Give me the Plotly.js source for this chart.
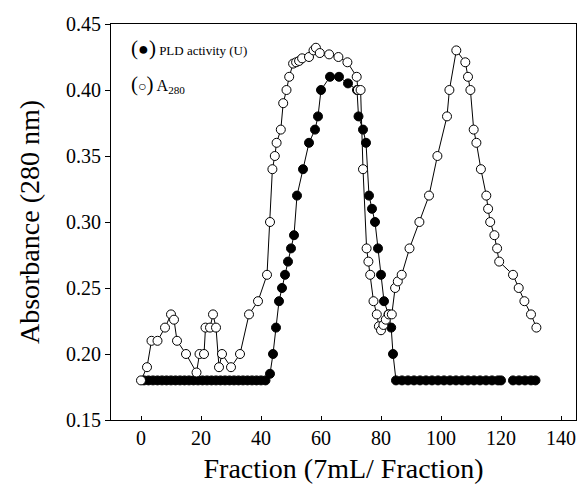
<!DOCTYPE html>
<html>
<head>
<meta charset="utf-8">
<script src="https://cdn.plot.ly/plotly-3.0.1.min.js"></script>
<style>html,body{margin:0;padding:0;background:#fff;}#chart{width:579px;height:488px;}</style>
</head>
<body>
<div id="chart"></div>
<script>
// PLD activity (filled circles)
const pldX = [1, 2.5, 4, 5.5, 7, 8.5, 10, 11.5, 13, 14.5, 16, 17.5, 19, 20.5, 22, 23.5, 25, 26.5, 28, 29.5, 31, 32.5, 34, 35.5, 37, 38.5, 40, 41.5, 43,
  44, 45, 46, 47, 48, 49, 50, 51, 52, 54, 56, 58, 59, 60, 63, 66, 69, 72, 72.5, 74, 75, 76, 77, 78, 79, 80, 81, 82.5, 83.4, 84, 85,
  87, 89, 91, 93, 95, 97, 99, 101, 103, 105, 107, 109, 111, 113, 115, 117, 119, 120, null, 124, 126, 128, 130, 131.5];
const pldY = [0.18, 0.18, 0.18, 0.18, 0.18, 0.18, 0.18, 0.18, 0.18, 0.18, 0.18, 0.18, 0.18, 0.18, 0.18, 0.18, 0.18, 0.18, 0.18, 0.18, 0.18, 0.18, 0.18, 0.18, 0.18, 0.18, 0.18, 0.18, 0.185,
  0.20, 0.22, 0.24, 0.25, 0.26, 0.27, 0.28, 0.29, 0.32, 0.34, 0.36, 0.37, 0.38, 0.40, 0.41, 0.41, 0.405, 0.40, 0.38, 0.37, 0.36, 0.32, 0.31, 0.30, 0.28, 0.26, 0.24, 0.23, 0.22, 0.20, 0.18,
  0.18, 0.18, 0.18, 0.18, 0.18, 0.18, 0.18, 0.18, 0.18, 0.18, 0.18, 0.18, 0.18, 0.18, 0.18, 0.18, 0.18, 0.18, null, 0.18, 0.18, 0.18, 0.18, 0.18];

// A280 (open circles)
const a280X = [0, 2, 3.5, 5.5, 8, 10, 11, 12, 15, 18.5, 19.5, 21, 21.5, 23, 24, 25, 26, 27, 30, 33, 36, 39, 42,
  43, 43.8, 44.6, 45.2, 46.6, 47.4, 48.5, 49.4, 50.7, 51.7, 52.7, 53.7, 56, 57.5, 58.3, 59.6, 62.7, 65.8, 68.8, 71.9, 72.3, 73.2, 74,
  75.2, 75.8, 76.4, 77.5, 78.6, 79.3, 80, 80.8, 81.6, 82.6, 83.6, 84.7, 85.6, 86.9, 89.5, 92.8, 96, 98.8, 102, 102.8, 105.1,
  108.1, 109, 109.8, 110.9, 111.8, 113.3, 115.1, 115.7, 116.4, 117.8, 118.7, 119.4, 124, 125.9, 127.8, 130, 131.8];
const a280Y = [0.18, 0.19, 0.21, 0.21, 0.22, 0.23, 0.226, 0.21, 0.20, 0.186, 0.20, 0.20, 0.22, 0.22, 0.23, 0.22, 0.19, 0.20, 0.19, 0.20, 0.23, 0.24, 0.26,
  0.30, 0.34, 0.35, 0.36, 0.37, 0.39, 0.40, 0.41, 0.42, 0.421, 0.422, 0.424, 0.425, 0.43, 0.432, 0.428, 0.427, 0.425, 0.421, 0.41, 0.40, 0.40, 0.34,
  0.28, 0.27, 0.26, 0.24, 0.23, 0.221, 0.218, 0.222, 0.226, 0.23, 0.23, 0.25, 0.255, 0.26, 0.28, 0.30, 0.32, 0.35, 0.38, 0.40, 0.43,
  0.421, 0.41, 0.40, 0.37, 0.36, 0.34, 0.32, 0.31, 0.30, 0.29, 0.28, 0.27, 0.26, 0.25, 0.24, 0.23, 0.22];

const xTicks = [0, 20, 40, 60, 80, 100, 120, 140];
const yTicks = [0.15, 0.20, 0.25, 0.30, 0.35, 0.40, 0.45];

const serif = 'Liberation Serif, Times New Roman, serif';

const traces = [
  {
    x: pldX, y: pldY, type: 'scatter', mode: 'lines+markers', connectgaps: false,
    line: {color: '#000', width: 1},
    marker: {symbol: 'circle', size: 9, color: '#000', line: {color: '#000', width: 1}},
    showlegend: false, hoverinfo: 'skip'
  },
  {
    x: a280X, y: a280Y, type: 'scatter', mode: 'lines+markers',
    line: {color: '#000', width: 1},
    marker: {symbol: 'circle', size: 9, color: '#fff', line: {color: '#000', width: 1}},
    showlegend: false, hoverinfo: 'skip'
  }
];

const layout = {
  width: 579, height: 488,
  margin: {l: 111, r: 3, t: 24, b: 68},
  paper_bgcolor: '#fff', plot_bgcolor: '#fff',
  font: {family: serif, color: '#000', size: 20},
  xaxis: {
    range: [-10, 145], tickvals: xTicks, ticktext: xTicks.map(String),
    ticks: 'inside', ticklen: 4, tickwidth: 1, tickcolor: '#000',
    showline: true, linecolor: '#000', linewidth: 1, mirror: true,
    showgrid: false, zeroline: false,
    tickfont: {family: serif, size: 20, color: '#000'},
    title: {text: 'Fraction (7mL/ Fraction)', font: {family: serif, size: 28, color: '#000'}, standoff: 10}
  },
  yaxis: {
    range: [0.15, 0.45], tickvals: yTicks, ticktext: yTicks.map(v => v.toFixed(2)),
    ticks: 'outside', ticklen: 5, tickwidth: 1, tickcolor: '#000',
    showline: true, linecolor: '#000', linewidth: 1, mirror: true,
    showgrid: false, zeroline: false,
    tickfont: {family: serif, size: 20, color: '#000'},
    title: {text: 'Absorbance (280 nm)', font: {family: serif, size: 28, color: '#000'}, standoff: 18}
  },
  annotations: [
    {xref: 'paper', yref: 'paper', x: 0.038, y: 0.939, xanchor: 'left', yanchor: 'middle', showarrow: false,
     text: '<span style="font-size:21px">(</span><span style="font-size:18px">●</span><span style="font-size:21px">)</span> PLD activity (U)',
     font: {family: serif, color: '#000', size: 13}},
    {xref: 'paper', yref: 'paper', x: 0.038, y: 0.848, xanchor: 'left', yanchor: 'middle', showarrow: false,
     text: '<span style="font-size:21px">(</span><span style="font-size:14px">○</span><span style="font-size:21px">)</span> A<sub>280</sub>',
     font: {family: serif, color: '#000', size: 16}}
  ]
};

Plotly.newPlot('chart', traces, layout, {displayModeBar: false, staticPlot: true});
</script>
</body>
</html>
